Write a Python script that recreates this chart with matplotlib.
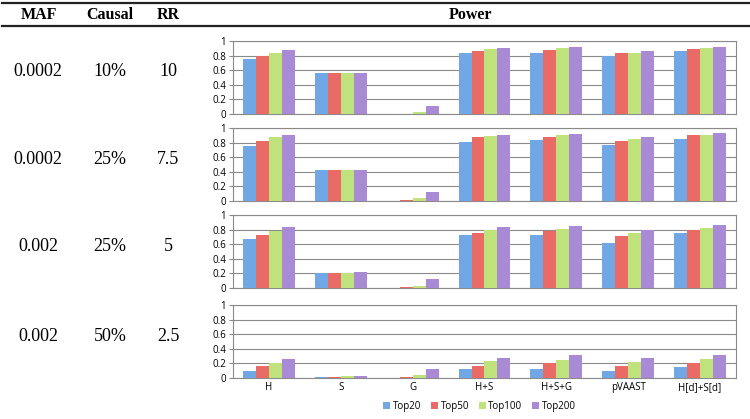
import numpy as np
import matplotlib
matplotlib.use("Agg")
import matplotlib.pyplot as plt

# table columns
maf = ["0.0002", "0.0002", "0.002", "0.002"]
causal = ["10%", "25%", "25%", "50%"]
rr = ["10", "7.5", "5", "2.5"]

methods = ["H", "S", "G", "H+S", "H+S+G", "pVAAST", "H[d]+S[d]"]
series = ["Top20", "Top50", "Top100", "Top200"]
colors = ["#72a7e6", "#ea6b66", "#bfe27c", "#a98bd5"]

# power[row][method] = [Top20, Top50, Top100, Top200]
power_r1 = [[0.75, 0.80, 0.84, 0.88], [0.56, 0.56, 0.56, 0.56], [0.00, 0.005, 0.03, 0.11],
            [0.83, 0.86, 0.89, 0.91], [0.84, 0.87, 0.90, 0.92], [0.80, 0.83, 0.84, 0.86],
            [0.86, 0.89, 0.91, 0.92]]
power_r2 = [[0.75, 0.82, 0.87, 0.90], [0.42, 0.42, 0.42, 0.43], [0.00, 0.01, 0.04, 0.12],
            [0.81, 0.87, 0.89, 0.91], [0.83, 0.88, 0.90, 0.92], [0.77, 0.82, 0.85, 0.87],
            [0.85, 0.90, 0.91, 0.93]]
power_r3 = [[0.67, 0.73, 0.78, 0.83], [0.21, 0.21, 0.21, 0.22], [0.00, 0.01, 0.03, 0.12],
            [0.72, 0.76, 0.79, 0.83], [0.73, 0.78, 0.81, 0.85], [0.62, 0.71, 0.75, 0.79],
            [0.75, 0.80, 0.82, 0.86]]
power_r4 = [[0.09, 0.16, 0.20, 0.26], [0.02, 0.02, 0.03, 0.03], [0.00, 0.01, 0.04, 0.12],
            [0.12, 0.17, 0.23, 0.28], [0.13, 0.20, 0.25, 0.32], [0.10, 0.17, 0.22, 0.28],
            [0.15, 0.20, 0.26, 0.31]]
rows = [power_r1, power_r2, power_r3, power_r4]

W, H = 750, 419
fig = plt.figure(figsize=(W / 100, H / 100), dpi=100)

serif = "Liberation Serif"
# header rules and titles
for yy in [3, 26]:
    fig.add_artist(plt.Line2D([2 / W, 1], [1 - yy / H] * 2, color="#222222", lw=1.6))
hy = 1 - 15 / H
for txt, xx in [("MAF", 39), ("Causal", 110), ("RR", 168), ("Power", 470)]:
    fig.text(xx / W, hy, txt, ha="center", va="center", family=serif,
             fontweight="bold", fontsize=11.5)

tops = [41, 128, 215, 305]
ah = 73
x = np.arange(len(methods))
bw = 0.18
for i, data in enumerate(rows):
    ax = fig.add_axes([233 / W, 1 - (tops[i] + ah) / H, 503 / W, ah / H])
    arr = np.array(data)
    for j, s in enumerate(series):
        ax.bar(x + (j - 1.5) * bw, arr[:, j], bw, color=colors[j], label=s, zorder=3)
    ax.set_xlim(-0.5, len(methods) - 0.5)
    ax.set_ylim(0, 1)
    ax.set_yticks(np.arange(0, 1.01, 0.2))
    ax.set_yticklabels(["0", "0.2", "0.4", "0.6", "0.8", "1"], family="Open Sans", fontsize=7)
    ax.yaxis.grid(True, color="#8a8a8a", lw=0.8, zorder=0)
    for sp in ax.spines.values():
        sp.set_color("#8a8a8a")
    ax.tick_params(axis="y", length=3, color="#8a8a8a", pad=2)
    ax.tick_params(axis="x", length=0)
    if i < 3:
        ax.set_xticks([])
    else:
        ax.set_xticks(x)
        ax.set_xticklabels(methods, family="Open Sans", fontsize=7)
        ax.tick_params(axis="x", pad=3)
        ax.legend(loc="upper center", bbox_to_anchor=(0.49, -0.22), ncol=4, frameon=False,
                  prop={"family": "Open Sans", "size": 7}, handlelength=0.7, handleheight=0.7,
                  handletextpad=0.3, columnspacing=1.0, borderpad=0.2)
    cy = 1 - (tops[i] + 31) / H
    for txt, xx in [(maf[i], 38), (causal[i], 110), (rr[i], 168)]:
        fig.text(xx / W, cy, txt, ha="center", va="center", family=serif, fontsize=13)

fig.savefig("out.png", dpi=100)
